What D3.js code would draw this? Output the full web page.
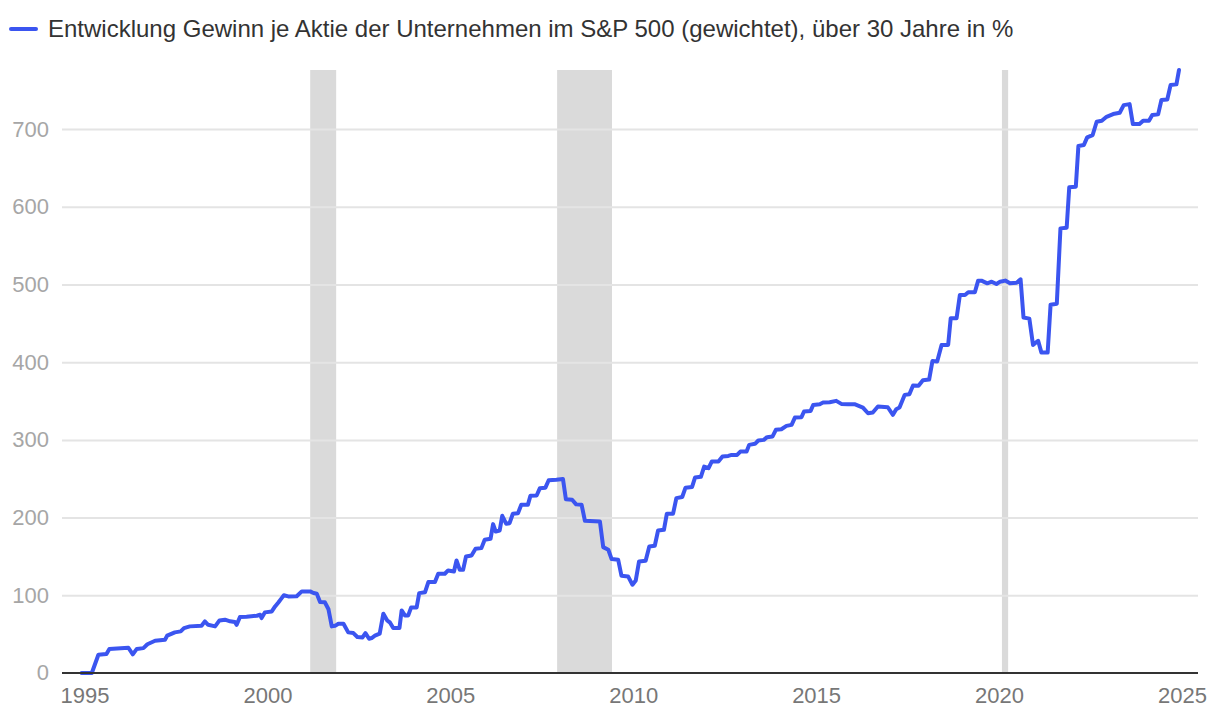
<!DOCTYPE html>
<html>
<head>
<meta charset="utf-8">
<script src="https://cdn.jsdelivr.net/npm/d3@7"></script>
<style>
  body { margin: 0; background: #fff; }
  text { font-family: "Liberation Sans", Arial, sans-serif; }
</style>
</head>
<body>
<div class="chart"></div>
<script>
// Data (decimal years / percent growth)
var years = [1994.92, 1995.2, 1995.38, 1995.6, 1995.68, 1996.2, 1996.32, 1996.43, 1996.61, 1996.72, 1996.93,
  1997.2, 1997.26, 1997.47, 1997.63, 1997.72, 1997.88, 1998.2, 1998.29, 1998.38, 1998.57, 1998.69, 1998.84, 1998.98,
  1999.11, 1999.16, 1999.25, 1999.43, 1999.71, 1999.8, 1999.84, 1999.93, 2000.12, 2000.21, 2000.3, 2000.39, 2000.45,
  2000.57, 2000.8, 2000.94, 2001.17, 2001.26, 2001.35, 2001.44, 2001.57, 2001.67, 2001.76, 2001.85, 2001.94, 2002.08,
  2002.21, 2002.35, 2002.46, 2002.6, 2002.68, 2002.78, 2002.85, 2002.94, 2003.07, 2003.17, 2003.28, 2003.35, 2003.44,
  2003.61, 2003.67, 2003.76, 2003.85, 2003.93, 2004.08, 2004.15, 2004.31, 2004.4, 2004.58, 2004.67, 2004.85, 2004.94,
  2005.1, 2005.17, 2005.26, 2005.35, 2005.43, 2005.58, 2005.69, 2005.85, 2005.94, 2006.1, 2006.17, 2006.24, 2006.35,
  2006.42, 2006.53, 2006.62, 2006.71, 2006.85, 2006.94, 2007.12, 2007.19, 2007.36, 2007.45, 2007.6, 2007.69, 2007.9,
  2008.08, 2008.16, 2008.33, 2008.44, 2008.59, 2008.68, 2009.09, 2009.18, 2009.32, 2009.41, 2009.59, 2009.68, 2009.86,
  2009.98, 2010.07, 2010.16, 2010.34, 2010.44, 2010.59, 2010.68, 2010.84, 2010.92, 2011.09, 2011.18, 2011.34, 2011.43,
  2011.61, 2011.69, 2011.85, 2011.94, 2012.06, 2012.15, 2012.33, 2012.44, 2012.6, 2012.69, 2012.84, 2012.93, 2013.1,
  2013.17, 2013.33, 2013.42, 2013.57, 2013.66, 2013.81, 2013.9, 2014.05, 2014.19, 2014.33, 2014.42, 2014.6, 2014.67,
  2014.85, 2014.92, 2015.1, 2015.19, 2015.37, 2015.55, 2015.69, 2015.87, 2016.05, 2016.28, 2016.42, 2016.55, 2016.69,
  2016.96, 2017.1, 2017.19, 2017.28, 2017.42, 2017.55, 2017.65, 2017.8, 2017.92, 2018.09, 2018.18, 2018.31, 2018.43,
  2018.61, 2018.68, 2018.84, 2018.93, 2019.07, 2019.16, 2019.34, 2019.43, 2019.52, 2019.68, 2019.8, 2019.93, 2020.03,
  2020.17, 2020.3, 2020.48, 2020.59, 2020.67, 2020.83, 2020.93, 2021.07, 2021.16, 2021.33, 2021.41, 2021.58, 2021.68,
  2021.85, 2021.92, 2022.1, 2022.17, 2022.32, 2022.41, 2022.56, 2022.67, 2022.81, 2022.94, 2023.12, 2023.3, 2023.41,
  2023.57, 2023.66, 2023.84, 2023.94, 2024.1, 2024.19, 2024.35, 2024.44, 2024.6, 2024.69, 2024.85, 2024.92];

var epsGrowth = [0, 0, 23.5, 24.4, 31, 32.5, 24, 31, 32, 37, 41.5,
  42.8, 48, 52.3, 53.6, 57.8, 60, 60.8, 66.4, 62, 60, 67.7, 68.6, 66.5,
  65.6, 62, 72, 72.5, 73.7, 75, 70.7, 78, 79.2, 85.7, 90.8, 96.4, 100,
  98.6, 98.8, 105, 105, 103, 102, 91.5, 91, 82, 60, 60.7, 63.3, 63.3,
  52.3, 51.4, 46.3, 45.8, 51.4, 44.1, 45, 48, 50.6, 76.3, 67.3, 65, 57.8,
  57.8, 80.5, 74.1, 74.1, 84.4, 84.4, 102.8, 104, 117, 117, 127.7, 127.7, 132,
  130.7, 144.8, 132.8, 132.8, 150, 151.3, 159.9, 160.7, 171.4, 172.7, 191.6, 182.1, 183.4,
  202.3, 192, 192.8, 204.9, 205.7, 216.4, 216.4, 228, 228.4, 237.9, 238.5, 248, 248.6,
  249.6, 223.7, 222.9, 217, 216.4, 195.9, 195, 162, 158.6, 146.6, 145.7, 125.1, 124.3,
  113.6, 119.1, 143.6, 144.4, 162.9, 163.7, 183.4, 184.3, 205, 205, 225, 226.5, 238.5,
  239.5, 251.5, 252.5, 265.7, 263.6, 272.2, 272.2, 278.6, 279.4, 280.7, 280.7, 285, 285,
  293.6, 294.9, 299.2, 300, 303.5, 304.4, 312.9, 313.7, 318, 319.3, 328.7, 329.2, 336.5,
  337.3, 345, 345.9, 348, 348.5, 350.2, 346.3, 345.9, 345.9, 341.6, 334.3, 335.2, 342.9,
  342, 332.2, 339.5, 341.6, 357.9, 358.8, 370, 369.7, 376.8, 377.6, 401.4, 400.8, 422.2,
  422.2, 456.5, 456.5, 486.5, 486.5, 490, 490, 504.9, 504.9, 501.5, 503.6, 500.6, 503.6,
  505, 501.5, 502.3, 506.6, 457.5, 456, 422.2, 427.5, 412.3, 412.3, 474, 475.3, 572.2,
  573.1, 625, 625.8, 678.1, 679.4, 689.3, 692.3, 709.4, 710.7, 715.8, 719.3, 721, 730.8,
  732.1, 706.4, 706.4, 710.7, 710.7, 718, 718.9, 737.3, 738.1, 756.6, 757.5, 775.9];

// US recessions (shaded)
var recessionStart = [2001.17, 2007.92, 2020.08];
var recessionEnd = [2001.88, 2009.42, 2020.25];

var xTicks = [1995, 2000, 2005, 2010, 2015, 2020, 2025];
var yTicks = [0, 100, 200, 300, 400, 500, 600, 700];

var legendLabel = "Entwicklung Gewinn je Aktie der Unternehmen im S&P 500 (gewichtet), über 30 Jahre in %";

var svgWidth = 1220;
var svgHeight = 720;
var lineColor = "#3b55f0";

var plot = { left: 62, right: 1198, top: 70, bottom: 673 };

var svg = d3.select(".chart")
  .append("svg")
  .attr("width", svgWidth)
  .attr("height", svgHeight);

// Scales
var xScale = d3.scaleLinear()
  .domain([1994.385, 2025.44])
  .range([plot.left, plot.right]);

var yScale = d3.scaleLinear()
  .domain([0, 776])
  .range([plot.bottom, plot.top]);

// Recession bands
var bands = recessionStart.map((s, i) => ({ s: s, e: recessionEnd[i] }));
svg.append("g")
  .selectAll("rect")
  .data(bands)
  .enter()
  .append("rect")
  .attr("x", d => xScale(d.s))
  .attr("width", d => xScale(d.e) - xScale(d.s))
  .attr("y", plot.top)
  .attr("height", plot.bottom - plot.top)
  .attr("fill", "#dadada");

// Y axis: gridlines + labels
var yAxis = d3.axisLeft(yScale)
  .tickValues(yTicks.filter(v => v > 0))
  .tickSize(-(plot.right - plot.left))
  .tickPadding(13)
  .tickFormat(d3.format("d"));

var yAxisG = svg.append("g")
  .attr("transform", `translate(${plot.left}, 0)`)
  .call(yAxis);
yAxisG.select(".domain").remove();
yAxisG.selectAll("line").attr("stroke", "#e4e4e4").attr("stroke-width", 2);
yAxisG.selectAll("text")
  .attr("fill", "#a6a6a6")
  .style("font-size", "22px");

// zero label (baseline drawn separately)
svg.append("text")
  .attr("x", plot.left - 13)
  .attr("y", yScale(0))
  .attr("dy", "0.32em")
  .attr("text-anchor", "end")
  .attr("fill", "#a6a6a6")
  .style("font-size", "22px")
  .text(yTicks[0]);

// X axis
var xAxis = d3.axisBottom(xScale)
  .tickValues(xTicks)
  .tickSize(0)
  .tickPadding(14)
  .tickFormat(d3.format("d"));

var xAxisG = svg.append("g")
  .attr("transform", `translate(0, ${plot.bottom})`)
  .call(xAxis);
xAxisG.select(".domain").remove();
xAxisG.selectAll("text")
  .attr("fill", "#777")
  .style("font-size", "22px");

// Line
var points = years.map((y, i) => [y, epsGrowth[i]]);
var line = d3.line()
  .x(d => xScale(d[0]))
  .y(d => yScale(d[1]));

svg.append("path")
  .datum(points)
  .attr("d", line)
  .attr("fill", "none")
  .attr("stroke", lineColor)
  .attr("stroke-width", 4)
  .attr("stroke-linejoin", "round")
  .attr("stroke-linecap", "round");

// baseline
svg.append("line")
  .attr("x1", plot.left)
  .attr("x2", plot.right)
  .attr("y1", yScale(0))
  .attr("y2", yScale(0))
  .attr("stroke", "#333")
  .attr("stroke-width", 2);

// Legend
svg.append("line")
  .attr("x1", 11).attr("x2", 36)
  .attr("y1", 29).attr("y2", 29)
  .attr("stroke", lineColor)
  .attr("stroke-width", 4)
  .attr("stroke-linecap", "round");

svg.append("text")
  .attr("x", 48)
  .attr("y", 37)
  .attr("fill", "#333")
  .style("font-size", "24px")
  .text(legendLabel);
</script>
</body>
</html>
